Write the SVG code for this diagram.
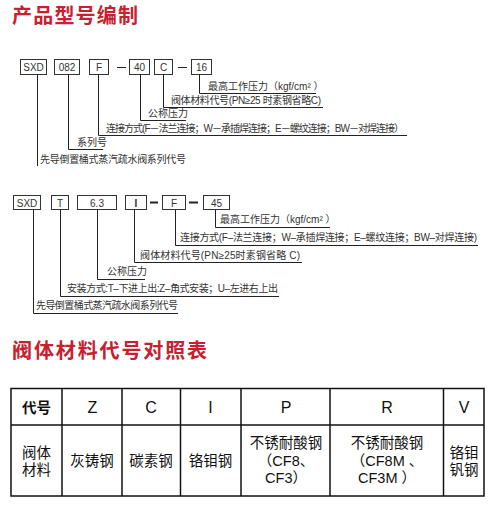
<svg xmlns="http://www.w3.org/2000/svg" width="502" height="507" viewBox="0 0 502 507">
<style>
.title{font-family:"Noto Sans CJK SC","Noto Sans",sans-serif;font-weight:bold;font-size:20px;fill:#c8202e}
.lbl{font-family:"Liberation Sans","Noto Sans CJK SC",sans-serif;font-size:10px;fill:#333}
.note{font-family:"Liberation Sans","Noto Sans CJK SC",sans-serif;font-size:10px;fill:#333}
.box{fill:#fff;stroke:#333;stroke-width:1}
.ln{fill:none;stroke:#222;stroke-width:1}
.tb{fill:none;stroke:#111;stroke-width:1.5}
.th{font-family:"Liberation Sans","Noto Sans CJK SC",sans-serif;font-size:16px;fill:#111;text-anchor:middle}
.td{font-family:"Liberation Sans","Noto Sans CJK SC",sans-serif;font-size:14.5px;fill:#111;text-anchor:middle}
</style>
<rect width="502" height="507" fill="#fff"/>
<text class="title" x="12" y="23" textLength="126">产品型号编制</text>

<!-- Diagram 1 -->
<g id="d1-boxes">
<g id="d1-sxd"><rect class="box" x="20.5" y="59.5" width="26" height="15"/><text class="lbl" x="33.5" y="71" text-anchor="middle">SXD</text></g>
<g id="d1-082"><rect class="box" x="54.5" y="59.5" width="25" height="15"/><text class="lbl" x="67" y="71" text-anchor="middle">082</text></g>
<g id="d1-f"><rect class="box" x="89.5" y="59.5" width="19" height="15"/><text class="lbl" x="99" y="71" text-anchor="middle">F</text></g>
<g id="d1-40"><rect class="box" x="129.5" y="59.5" width="20" height="15"/><text class="lbl" x="139.5" y="71" text-anchor="middle">40</text></g>
<g id="d1-c"><rect class="box" x="154.5" y="59.5" width="18" height="15"/><text class="lbl" x="163.5" y="71" text-anchor="middle">C</text></g>
<g id="d1-16"><rect class="box" x="191.5" y="59.5" width="20" height="15"/><text class="lbl" x="201.5" y="71" text-anchor="middle">16</text></g>
</g>
<g id="d1-connectors">
<line class="ln" x1="117" y1="67.5" x2="126" y2="67.5"/>
<line class="ln" x1="178" y1="67.5" x2="187" y2="67.5"/>
<polyline class="ln" points="199.5,74.5 199.5,93.5 316,93.5"/>
<polyline class="ln" points="163.5,74.5 163.5,107.5 323,107.5"/>
<polyline class="ln" points="140.5,74.5 140.5,120.5 186,120.5"/>
<polyline class="ln" points="98.5,74.5 98.5,135.5 407,135.5"/>
<polyline class="ln" points="68.5,74.5 68.5,149.5 103,149.5"/>
<polyline class="ln" points="37.5,74.5 37.5,166"/>
</g>
<g id="d1-notes">
<text class="note" x="208" y="90">最高工作压力（kgf/cm² ）</text>
<text class="note" x="171" y="104" textLength="150">阀体材料代号(PN≥25 时素钢省略C)</text>
<text class="note" x="148" y="117">公称压力</text>
<text class="note" x="106" y="132" textLength="298">连接方式(F－法兰连接；W－承插焊连接；E－螺纹连接；BW－对焊连接）</text>
<text class="note" x="77" y="146">系列号</text>
<text class="note" x="40" y="163" textLength="146">先导倒置桶式蒸汽疏水阀系列代号</text>
</g>

<!-- Diagram 2 -->
<g id="d2-boxes">
<g id="d2-sxd"><rect class="box" x="13.5" y="195.5" width="27" height="14"/><text class="lbl" x="27" y="206.5" text-anchor="middle">SXD</text></g>
<g id="d2-t"><rect class="box" x="51.5" y="195.5" width="17" height="14"/><text class="lbl" x="60" y="206.5" text-anchor="middle">T</text></g>
<g id="d2-63"><rect class="box" x="77.5" y="195.5" width="39" height="14"/><text class="lbl" x="97" y="206.5" text-anchor="middle">6.3</text></g>
<g id="d2-i"><rect class="box" x="125.5" y="195.5" width="21" height="14"/><text class="lbl" x="136" y="206.5" text-anchor="middle" font-weight="bold">I</text></g>
<g id="d2-f"><rect class="box" x="162.5" y="195.5" width="23" height="14"/><text class="lbl" x="174" y="206.5" text-anchor="middle">F</text></g>
<g id="d2-45"><rect class="box" x="203.5" y="195.5" width="26" height="14"/><text class="lbl" x="216.5" y="206.5" text-anchor="middle">45</text></g>
</g>
<g id="d2-connectors">
<line x1="150" y1="202.5" x2="158" y2="202.5" stroke="#222" stroke-width="2"/>
<line x1="189" y1="202.5" x2="198" y2="202.5" stroke="#222" stroke-width="2"/>
<polyline class="ln" points="215.5,209.5 215.5,227.5 330,227.5"/>
<polyline class="ln" points="175.5,209.5 175.5,245.5 478,245.5"/>
<polyline class="ln" points="134.5,209.5 134.5,262.5 302,262.5"/>
<polyline class="ln" points="97.5,209.5 97.5,279.5 145,279.5"/>
<polyline class="ln" points="60.5,209.5 60.5,296.5 279,296.5"/>
<polyline class="ln" points="33.5,209.5 33.5,313.5 178,313.5"/>
</g>
<g id="d2-notes">
<text class="note" x="220" y="223">最高工作压力（kgf/cm² ）</text>
<text class="note" x="180" y="241" textLength="297">连接方式(F–法兰连接；W–承插焊连接；E–螺纹连接；BW–对焊连接)</text>
<text class="note" x="140" y="259" textLength="160">阀体材料代号(PN≥25时素钢省略 C)</text>
<text class="note" x="107" y="275">公称压力</text>
<text class="note" x="67" y="292" textLength="211">安装方式:T–下进上出:Z–角式安装；U–左进右上出</text>
<text class="note" x="36" y="309" textLength="142">先导倒置桶式蒸汽疏水阀系列代号</text>
</g>

<text class="title" x="12" y="358" textLength="195">阀体材料代号对照表</text>

<!-- Table -->
<g id="table">
<rect class="tb" x="11" y="388.5" width="473" height="107.5"/>
<line class="tb" x1="11" y1="425" x2="484" y2="425"/>
<line class="tb" x1="62" y1="388.5" x2="62" y2="496"/>
<line class="tb" x1="122" y1="388.5" x2="122" y2="496"/>
<line class="tb" x1="180.5" y1="388.5" x2="180.5" y2="496"/>
<line class="tb" x1="241" y1="388.5" x2="241" y2="496"/>
<line class="tb" x1="330" y1="388.5" x2="330" y2="496"/>
<line class="tb" x1="443.5" y1="388.5" x2="443.5" y2="496"/>
<text class="td" x="36.5" y="413" font-weight="bold">代号</text>
<text class="th" x="92.5" y="413">Z</text>
<text class="th" x="151" y="413">C</text>
<text class="th" x="210.5" y="413">I</text>
<text class="th" x="286" y="413">P</text>
<text class="th" x="387" y="413">R</text>
<text class="th" x="464" y="413">V</text>
<text class="td" x="36.5" y="458">阀体</text>
<text class="td" x="36.5" y="475">材料</text>
<text class="td" x="92" y="466">灰铸钢</text>
<text class="td" x="151" y="466">碳素钢</text>
<text class="td" x="210.5" y="466">铬钼钢</text>
<text class="td" x="286" y="448">不锈耐酸钢</text>
<text class="td" x="286" y="466">（CF8、</text>
<text class="td" x="286" y="483">CF3）</text>
<text class="td" x="387" y="448">不锈耐酸钢</text>
<text class="td" x="387" y="466">（CF8M 、</text>
<text class="td" x="387" y="483">CF3M ）</text>
<text class="td" x="464" y="458">铬钼</text>
<text class="td" x="464" y="475">钒钢</text>
</g>
</svg>
